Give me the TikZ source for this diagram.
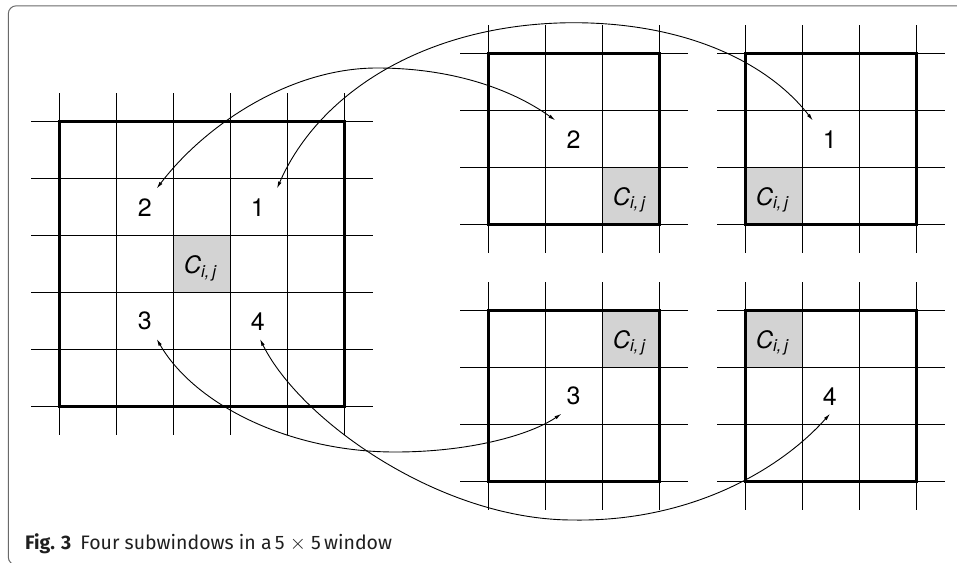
\documentclass[tikz,border=0pt]{standalone}
\usepackage{fontspec}
\setmainfont{TeX Gyre Heros}
\newfontfamily\capfont{Fira Sans}
\usetikzlibrary{arrows.meta}
\definecolor{cellgray}{RGB}{211,211,211}
\definecolor{framegray}{RGB}{105,105,105}
\tikzset{
  thinline/.style={line width=1.1pt, black},
  heavy/.style={line width=2.8pt, black},
  conn/.style={line width=0.9pt, {Latex[length=7pt,width=3.6pt]}-{Latex[length=7pt,width=3.6pt]}},
  numlbl/.style={font=\fontsize{25}{25}\selectfont, inner sep=0pt},
  clbl/.style={font=\fontsize{24}{24}\selectfont, inner sep=0pt, anchor=base},
  shade/.style={fill=cellgray, draw=none},
  caplbl/.style={font=\capfont\fontsize{19.5}{19.5}\selectfont, text=black!88, inner sep=0pt, anchor=base west},
  frame/.style={draw=framegray, line width=1pt, rounded corners=8pt},
}
% #1 ox, #2 oy, #3 n, #4 cell, #5 ext
\newcommand\mygrid[5]{%
  \foreach \k in {0,...,#3} {
    \draw[thinline] ({#1+\k*#4},{#2-#5}) -- ({#1+\k*#4},{#2+#3*#4+#5});
    \draw[thinline] ({#1-#5},{#2+\k*#4}) -- ({#1+#3*#4+#5},{#2+\k*#4});
  }
  \draw[heavy] (#1,#2) rectangle ({#1+#3*#4},{#2+#3*#4});
}
\newcommand\cij{\textit{C}\textsubscript{\textit{i,\,j}}}
\begin{document}
\begin{tikzpicture}[x=1pt,y=-1pt]
\useasboundingbox (0,0) rectangle (957,562);
\draw[frame] (965,5.8) -- (8.3,5.8) -- (8.3,565) -- (965,565);

% shaded cells
\fill[shade] (173.5,235.5) rectangle (230.5,292.5);
\fill[shade] (602.5,167.5) rectangle (659.5,224.5);
\fill[shade] (745.5,167.5) rectangle (802.5,224.5);
\fill[shade] (602.5,310.5) rectangle (659.5,367.5);
\fill[shade] (745.5,310.5) rectangle (802.5,367.5);

% grids
\mygrid{59.5}{121.5}{5}{57}{28.5}
\mygrid{488.5}{53.5}{3}{57}{28.5}
\mygrid{745.5}{53.5}{3}{57}{28.5}
\mygrid{488.5}{310.5}{3}{57}{28.5}
\mygrid{745.5}{310.5}{3}{57}{28.5}

% labels, big window
\node[clbl] (cL) at (200.5,273.5) {\cij};
\node[numlbl] (n2L) at (144.8,207.7) {2};
\node[numlbl] (n1L) at (257.8,207.7) {1};
\node[numlbl] (n3L) at (144.8,321.2) {3};
\node[numlbl] (n4L) at (257.8,321.2) {4};

% labels, subwindows
\node[clbl] (c2) at (629.5,205) {\cij};
\node[clbl] (c1) at (772.5,205) {\cij};
\node[clbl] (c3) at (629.5,348) {\cij};
\node[clbl] (c4) at (772.5,348) {\cij};
\node[numlbl] (n2R) at (573.5,139.7) {2};
\node[numlbl] (n1R) at (829.8,139.7) {1};
\node[numlbl] (n3R) at (573.5,396.3) {3};
\node[numlbl] (n4R) at (829.8,396.3) {4};

% connector ends
\coordinate (t2L) at (156.7,188.5);
\coordinate (t1L) at (277,188.5);
\coordinate (t3L) at (156.7,339);
\coordinate (t4L) at (260,339);
\coordinate (t2R) at (555.3,120.3);
\coordinate (t1R) at (812.8,120.5);
\coordinate (t3R) at (561.4,413.8);
\coordinate (t4R) at (830,413.8);

\draw[conn] (t2L) .. controls (205,125) and (290,68) .. (377,68) .. controls (450,68) and (510,88) .. (t2R);
\draw[conn] (t1L) .. controls (320,90) and (430,23) .. (574,22.7) .. controls (690,23) and (770,65) .. (t1R);
\draw[conn] (t3L) .. controls (195,405) and (290,452) .. (395,452) .. controls (470,452) and (530,435) .. (t3R);
\draw[conn] (t4L) .. controls (300,420) and (440,520) .. (573,520) .. controls (690,522) and (780,470) .. (t4R);

% caption
\node[caplbl] (cap) at (25,549.3) {\textbf{Fig. 3}\hspace{9pt}Four subwindows in a\,5 $\times$ 5\,window};
\end{tikzpicture}
\end{document}
